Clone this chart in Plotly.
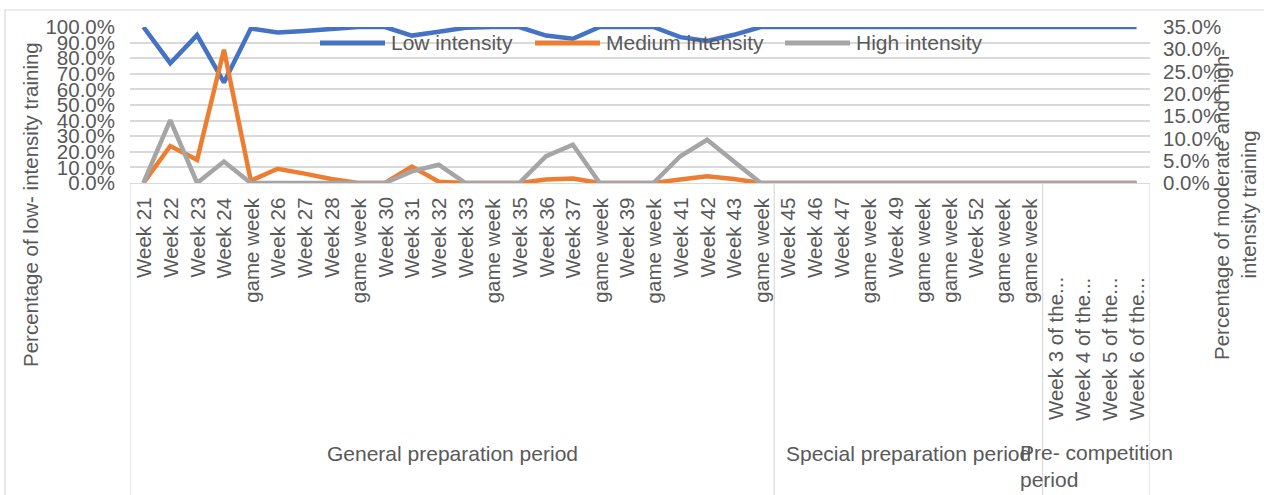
import plotly.graph_objects as go

# ---- data -------------------------------------------------------------
week_labels = [
    "Week 21", "Week 22", "Week 23", "Week 24", "game week", "Week 26",
    "Week 27", "Week 28", "game week", "Week 30", "Week 31", "Week 32",
    "Week 33", "game week", "Week 35", "Week 36", "Week 37", "game week",
    "Week 39", "game week", "Week 41", "Week 42", "Week 43", "game week",
    "Week 45", "Week 46", "Week 47", "game week", "Week 49", "game week",
    "game week", "Week 52", "game week", "game week",
    "Week 3 of the...", "Week 4 of the...", "Week 5 of the...", "Week 6 of the...",
]
period_labels = ["General preparation period", "Special preparation period",
                 "Pre- competition<br>period"]
period_sizes = [24, 10, 4]

low_intensity = [
    100, 76.8, 94.8, 64.5, 99.0, 96.5, 97.5, 99.0, 100, 100, 94.5, 97.0,
    99.5, 100, 100, 94.5, 92.5, 100, 100, 100, 93.5, 91.0, 95.0, 100,
    100, 100, 100, 100, 100, 100, 100, 100, 100, 100,
    100, 100, 100, 100,
]
medium_intensity = [
    0, 8.3, 5.2, 29.9, 0.5, 3.2, 2.1, 0.9, 0, 0, 3.7, 0.3,
    0, 0, 0, 0.8, 1.0, 0, 0, 0, 0.8, 1.5, 0.9, 0,
    0, 0, 0, 0, 0, 0, 0, 0, 0, 0,
    0, 0, 0, 0,
]
high_intensity = [
    0, 14.1, 0, 4.8, 0, 0, 0, 0, 0, 0, 2.6, 4.1,
    0, 0, 0, 6.0, 8.6, 0, 0, 0, 6.0, 9.7, 4.8, 0,
    0, 0, 0, 0, 0, 0, 0, 0, 0, 0,
    0, 0, 0, 0,
]
series_names = ["Low intensity", "Medium intensity", "High intensity"]
series_colors = ["#4472C4", "#ED7D31", "#A5A5A5"]

# ---- geometry helpers -------------------------------------------------
W, H = 1264, 495
PL, PR, PT, PB = 130, 1150, 27, 183          # plot-area edges in px
FONT = "Liberation Sans, Arial, sans-serif"
TXT = "#595959"
GRID = "#d9d9d9"


def fx(px):
    return (px - PL) / (PR - PL)


def fy(py):
    return (PB - py) / (PB - PT)


x = list(range(len(week_labels)))

fig = go.Figure()
fig.add_trace(go.Scatter(x=x, y=low_intensity, name=series_names[0], mode="lines",
                         line=dict(color=series_colors[0], width=4.5), yaxis="y"))
fig.add_trace(go.Scatter(x=x, y=medium_intensity, name=series_names[1], mode="lines",
                         line=dict(color=series_colors[1], width=4.5), yaxis="y2"))
fig.add_trace(go.Scatter(x=x, y=high_intensity, name=series_names[2], mode="lines",
                         line=dict(color=series_colors[2], width=4.5), yaxis="y2"))

annotations = []
shapes = []

# category labels, rotated
for i, lab in enumerate(week_labels):
    if i < 34:
        annotations.append(dict(x=i, y=0, xref="x", yref="paper", text=lab,
                                textangle=-90, xanchor="center", yanchor="top",
                                yshift=-12, showarrow=False,
                                font=dict(family=FONT, size=20.5, color=TXT)))
    else:
        annotations.append(dict(x=i, y=fy(349), xref="x", yref="paper", text=lab,
                                textangle=-90, xanchor="center", yanchor="middle",
                                showarrow=False,
                                font=dict(family=FONT, size=20.5, color=TXT)))

# period group labels and separators
start = 0
bounds = [-0.5]
for lab, n in zip(period_labels, period_sizes):
    centre = start + (n - 1) / 2
    multi = "<br>" in lab
    annotations.append(dict(x=centre, y=fy(466 if multi else 453), xref="x", yref="paper",
                            text=lab, showarrow=False, align="left",
                            xanchor="center", yanchor="middle",
                            font=dict(family=FONT, size=21, color=TXT)))
    start += n
    bounds.append(start - 0.5)
for b in bounds:
    shapes.append(dict(type="line", xref="x", yref="paper", x0=b, x1=b,
                       y0=0, y1=fy(505), line=dict(color=GRID, width=1.2)))

# axis titles
annotations.append(dict(x=fx(30), y=fy(205), xref="paper", yref="paper",
                        text="Percentage of low- intensity training", textangle=-90,
                        showarrow=False, xanchor="center", yanchor="middle",
                        font=dict(family=FONT, size=20.5, color=TXT)))
annotations.append(dict(x=fx(1235), y=fy(205), xref="paper", yref="paper",
                        text="Percentage of moderate and high-<br>intensity training",
                        textangle=-90, showarrow=False, xanchor="center",
                        yanchor="middle", align="center",
                        font=dict(family=FONT, size=20.5, color=TXT)))

# legend drawn across the top of the plot
legend_pos = [(320, 385), (535, 600), (785, 850)]
for (x0, x1), name, col in zip(legend_pos, series_names, series_colors):
    shapes.append(dict(type="line", xref="paper", yref="paper",
                       x0=fx(x0), x1=fx(x1), y0=fy(43), y1=fy(43),
                       line=dict(color=col, width=5)))
    annotations.append(dict(x=fx(x1 + 4), y=fy(43), xref="paper", yref="paper",
                            text=name, showarrow=False, xanchor="left",
                            yanchor="middle",
                            font=dict(family=FONT, size=21, color=TXT)))

# outer chart border
shapes.append(dict(type="rect", xref="paper", yref="paper",
                   x0=fx(5), x1=fx(1275), y0=fy(10), y1=fy(510),
                   line=dict(color=GRID, width=1.2), layer="below"))

fig.update_layout(
    width=W, height=H,
    margin=dict(l=PL, r=W - PR, t=PT, b=H - PB),
    paper_bgcolor="white", plot_bgcolor="white",
    showlegend=False,
    font=dict(family=FONT, color=TXT),
    xaxis=dict(range=[-0.5, len(week_labels) - 0.5], showticklabels=False,
               showgrid=False, zeroline=False, showline=True,
               linecolor=GRID, linewidth=1.2, ticks=""),
    yaxis=dict(range=[0, 100], dtick=10, tickformat=".1f", ticksuffix="%",
               showgrid=True, gridcolor=GRID, gridwidth=2, zeroline=False,
               ticks="", ticklabelstandoff=14,
               tickfont=dict(family=FONT, size=20.5, color=TXT)),
    yaxis2=dict(range=[0, 35], dtick=5, tickformat=".1f", ticksuffix="%",
                overlaying="y", side="right", showgrid=False, zeroline=False,
                ticks="", ticklabelstandoff=12,
                tickfont=dict(family=FONT, size=20.5, color=TXT)),
    annotations=annotations,
    shapes=shapes,
)

fig.write_html("out.html")
